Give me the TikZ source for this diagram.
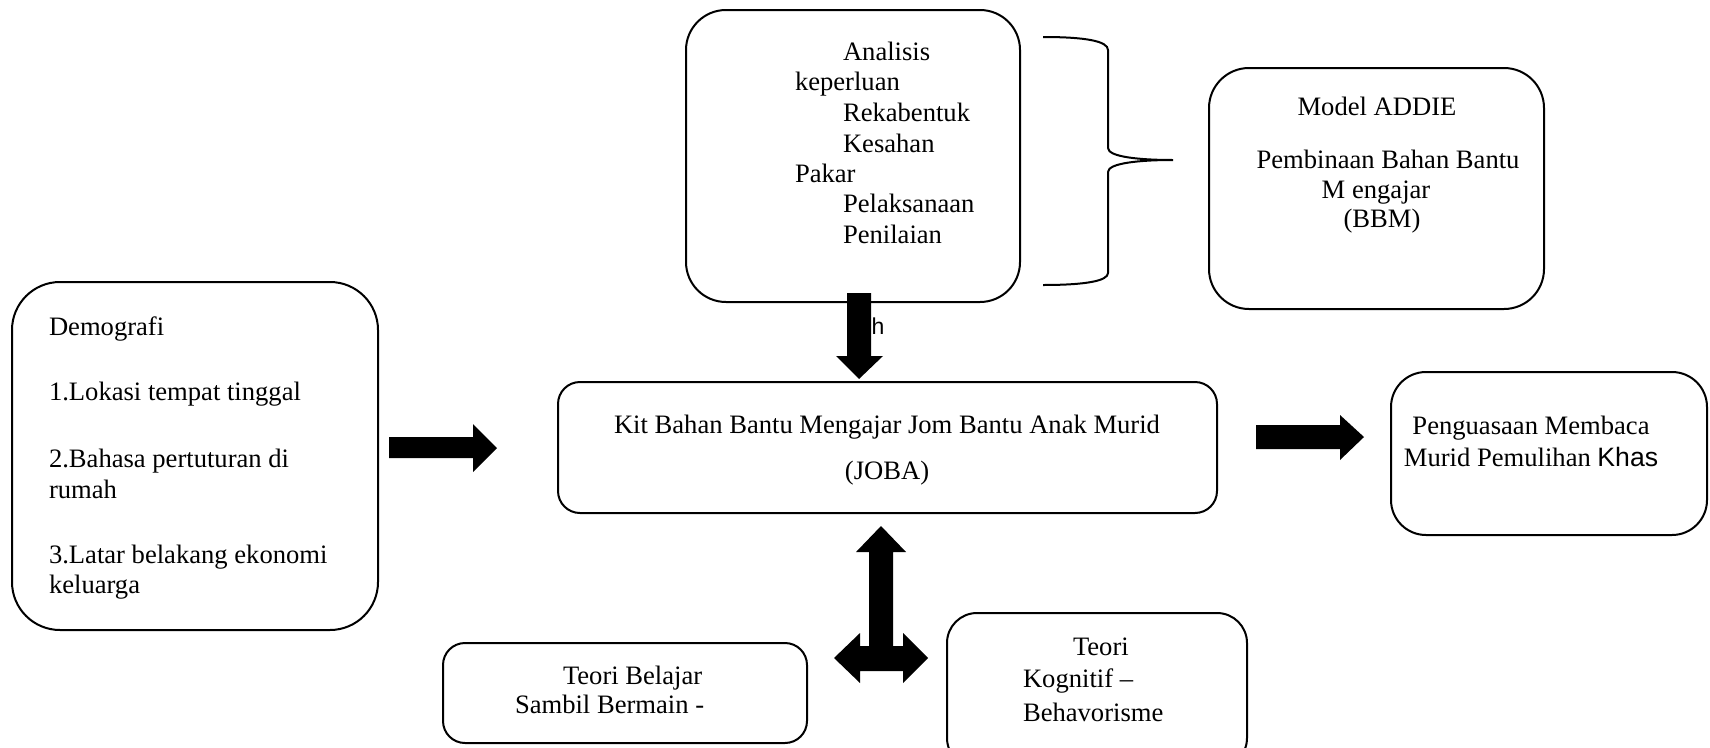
\documentclass[tikz,border=0pt]{standalone}
\usepackage{fontspec}
\setmainfont{Liberation Serif}
\newfontfamily\arialfont{Liberation Sans}
\begin{document}
\begin{tikzpicture}[x=1pt,y=-1pt,
  box/.style={draw, line width=2pt, inner sep=0pt, outer sep=0pt},
  txt/.style={inner sep=0pt, outer sep=0pt, font=\fontsize{26.6}{30}\selectfont},
  lw/.style={txt, anchor=base west},
  lc/.style={txt, anchor=base},
  blockarrow/.style={fill=black, draw=none}]
\useasboundingbox (0,0) rectangle (1710,747);
% boxes
\node[box, rounded corners=40pt, minimum width=334pt, minimum height=292pt] (adbox) at (853,156) {};
\node[box, rounded corners=40pt, minimum width=335pt, minimum height=241pt] (addie) at (1376.5,188.5) {};
\node[box, rounded corners=48pt, minimum width=366pt, minimum height=348pt] (demo) at (195,456) {};
\node[box, rounded corners=22pt, minimum width=659pt, minimum height=131pt] (joba) at (887.5,447.5) {};
\node[box, rounded corners=35pt, minimum width=316pt, minimum height=163pt] (peng) at (1549,453.5) {};
\node[box, rounded corners=22pt, minimum width=364pt, minimum height=100pt] (tb) at (625,693) {};
\node[box, rounded corners=30pt, minimum width=300pt, minimum height=155pt] (tk) at (1097,690.5) {};
% brace
\draw[line width=2pt] (1043,37) .. controls (1085,37) and (1108,41) .. (1108,50) -- (1108,148)
  .. controls (1108,157) and (1140,160) .. (1173,160)
  .. controls (1140,160) and (1108,163) .. (1108,172) -- (1108,273)
  .. controls (1108,281) and (1085,285) .. (1043,285);
% texts top box
\node[lw] (t1) at (843,60) {Analisis};
\node[lw] (t2) at (795,90) {keperluan};
\node[lw] (t3) at (843,121) {Rekabentuk};
\node[lw] (t4) at (843,152) {Kesahan};
\node[lw] (t5) at (795,182) {Pakar};
\node[lw] (t6) at (843,212) {Pelaksanaan};
\node[lw] (t7) at (843,243) {Penilaian};
% ADDIE
\node[lc] (a1) at (1377,115) {Model ADDIE};
\node[lc] (a2) at (1388,168) {Pembinaan Bahan Bantu};
\node[lc] (a3) at (1376,198) {M engajar};
\node[lc] (a4) at (1382,227) {(BBM)};
% Demografi
\node[lw] (d1) at (49,335) {Demografi};
\node[lw] (d2) at (49,400) {1.Lokasi tempat tinggal};
\node[lw] (d3) at (49,467) {2.Bahasa pertuturan di};
\node[lw] (d4) at (49,498) {rumah};
\node[lw] (d5) at (49,563) {3.Latar belakang ekonomi};
\node[lw] (d6) at (49,593) {keluarga};
% JOBA
\node[lc] (j1) at (887,433) {Kit Bahan Bantu Mengajar Jom Bantu Anak Murid};
\node[lc] (j2) at (887,479) {(JOBA)};
% Penguasaan
\node[lc] (p1) at (1531,434) {Penguasaan Membaca};
\node[lc] (p2) at (1531,466) {Murid Pemulihan {\arialfont Khas}};
% Teori Belajar
\node[lw] (b1) at (563,684) {Teori Belajar};
\node[lw] (b2) at (515,713) {Sambil Bermain -};
% Teori Kognitif
\node[lw] (k1) at (1073,655) {Teori};
\node[lw] (k2) at (1023,687) {Kognitif –};
\node[lw] (k3) at (1023,721) {Behavorisme};
% stray h
\node[inner sep=0pt, anchor=base west, font=\arialfont\fontsize{23}{26}\selectfont] (hh) at (871.5,334) {h};
% arrows
\fill[blockarrow] (847,293) -- (871,293) -- (871,356) -- (883,356) -- (859,379) -- (836,356) -- (847,356) -- cycle;
\fill[blockarrow] (389,437) -- (473,437) -- (473,424) -- (497,448) -- (473,472) -- (473,458) -- (389,458) -- cycle;
\fill[blockarrow] (1256,425) -- (1340,425) -- (1340,415) -- (1364,437) -- (1340,460) -- (1340,449) -- (1256,449) -- cycle;
\fill[blockarrow] (881,526) -- (906,552) -- (893,552) -- (893,646) -- (903,646) -- (903,633) -- (928,658)
  -- (903,683) -- (903,671) -- (860,671) -- (860,683) -- (834,658) -- (860,633) -- (860,646)
  -- (869,646) -- (869,552) -- (856,552) -- cycle;
\end{tikzpicture}
\end{document}
